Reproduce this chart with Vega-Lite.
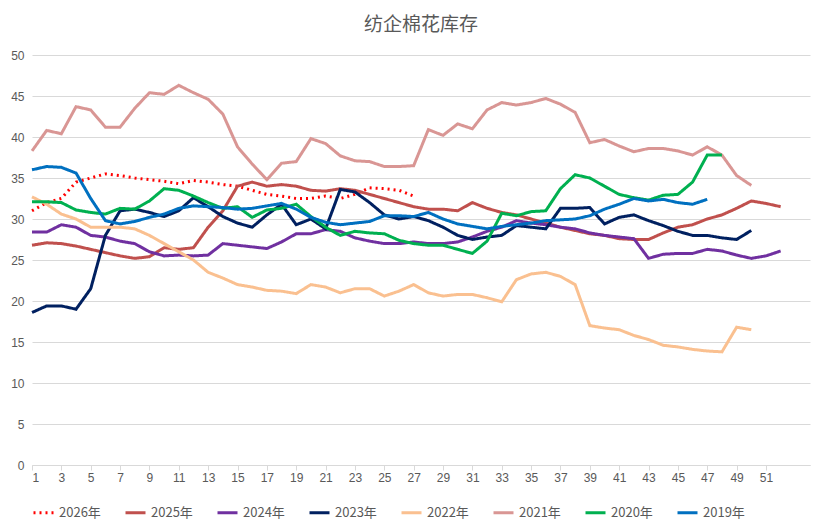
{
"$schema":"https://vega.github.io/schema/vega-lite/v6.json",
"autosize":{"type":"fit","contains":"padding"},
"width":830,"height":525,
"padding":{"left":10,"right":20,"top":16,"bottom":5},
"title":{"text":"纺企棉花库存","fontSize":19,"color":"#595959","font":"Noto Sans CJK SC","fontWeight":"normal","offset":14},
"config":{"font":"Noto Sans CJK SC","view":{"stroke":null}},
"data":{"values":[
{"w":1,"2026年":31,"2025年":26.8,"2024年":28.4,"2023年":18.6,"2022年":32.7,"2021年":38.3,"2020年":32.1,"2019年":36},
{"w":2,"2026年":32,"2025年":27.1,"2024年":28.4,"2023年":19.4,"2022年":31.8,"2021年":40.8,"2020年":32.1,"2019年":36.4},
{"w":3,"2026年":32.5,"2025年":27,"2024年":29.3,"2023年":19.4,"2022年":30.6,"2021年":40.4,"2020年":32,"2019年":36.3},
{"w":4,"2026年":34.5,"2025年":26.7,"2024年":29,"2023年":19,"2022年":30,"2021年":43.7,"2020年":31.1,"2019年":35.6},
{"w":5,"2026年":35,"2025年":26.3,"2024年":28,"2023年":21.5,"2022年":29,"2021年":43.3,"2020年":30.8,"2019年":32.5},
{"w":6,"2026年":35.5,"2025年":25.9,"2024年":27.8,"2023年":28,"2022年":29,"2021年":41.2,"2020年":30.6,"2019年":29.8},
{"w":7,"2026年":35.3,"2025年":25.5,"2024年":27.3,"2023年":31,"2022年":29,"2021年":41.2,"2020年":31.3,"2019年":29.4},
{"w":8,"2026年":35,"2025年":25.2,"2024年":27,"2023年":31.2,"2022年":28.8,"2021年":43.5,"2020年":31.2,"2019年":29.7},
{"w":9,"2026年":34.8,"2025年":25.4,"2024年":26,"2023年":30.8,"2022年":28,"2021年":45.4,"2020年":32.2,"2019年":30.2},
{"w":10,"2026年":34.6,"2025年":26.5,"2024年":25.5,"2023年":30.3,"2022年":27,"2021年":45.2,"2020年":33.7,"2019年":30.6},
{"w":11,"2026年":34.3,"2025年":26.3,"2024年":25.6,"2023年":31,"2022年":26,"2021年":46.3,"2020年":33.5,"2019年":31.3},
{"w":12,"2026年":34.7,"2025年":26.5,"2024年":25.5,"2023年":32.6,"2022年":25,"2021年":45.4,"2020年":32.8,"2019年":31.6},
{"w":13,"2026年":34.5,"2025年":29,"2024年":25.6,"2023年":31.5,"2022年":23.5,"2021年":44.6,"2020年":32,"2019年":31.5},
{"w":14,"2026年":34.2,"2025年":31,"2024年":27,"2023年":30.3,"2022年":22.8,"2021年":42.8,"2020年":31.3,"2019年":31.4},
{"w":15,"2026年":34,"2025年":34,"2024年":26.8,"2023年":29.5,"2022年":22,"2021年":38.8,"2020年":31.5,"2019年":31.2},
{"w":16,"2026年":33.5,"2025年":34.5,"2024年":26.6,"2023年":29,"2022年":21.7,"2021年":36.7,"2020年":30.2,"2019年":31.3},
{"w":17,"2026年":33,"2025年":34,"2024年":26.4,"2023年":30.5,"2022年":21.3,"2021年":34.8,"2020年":31.1,"2019年":31.6},
{"w":18,"2026年":32.8,"2025年":34.2,"2024年":27.2,"2023年":31.8,"2022年":21.2,"2021年":36.8,"2020年":31.3,"2019年":31.9},
{"w":19,"2026年":32.5,"2025年":34,"2024年":28.2,"2023年":29.3,"2022年":20.9,"2021年":37,"2020年":31.8,"2019年":31.2},
{"w":20,"2026年":32.5,"2025年":33.5,"2024年":28.2,"2023年":30,"2022年":22,"2021年":39.8,"2020年":30.3,"2019年":30.2},
{"w":21,"2026年":32.8,"2025年":33.4,"2024年":28.7,"2023年":28.8,"2022年":21.7,"2021年":39.2,"2020年":29,"2019年":29.6},
{"w":22,"2026年":32.5,"2025年":33.7,"2024年":28.5,"2023年":33.6,"2022年":21,"2021年":37.7,"2020年":28,"2019年":29.3},
{"w":23,"2026年":33,"2025年":33.5,"2024年":27.7,"2023年":33.3,"2022年":21.5,"2021年":37.1,"2020年":28.5,"2019年":29.5},
{"w":24,"2026年":33.8,"2025年":33,"2024年":27.3,"2023年":32,"2022年":21.5,"2021年":37,"2020年":28.3,"2019年":29.7},
{"w":25,"2026年":33.7,"2025年":32.5,"2024年":27,"2023年":30.5,"2022年":20.6,"2021年":36.4,"2020年":28.2,"2019年":30.4},
{"w":26,"2026年":33.5,"2025年":32,"2024年":27,"2023年":30,"2022年":21.2,"2021年":36.4,"2020年":27.4,"2019年":30.4},
{"w":27,"2026年":32.8,"2025年":31.5,"2024年":27.2,"2023年":30.3,"2022年":22,"2021年":36.5,"2020年":27,"2019年":30.3},
{"w":28,"2025年":31.2,"2024年":27,"2023年":29.8,"2022年":21,"2021年":40.9,"2020年":26.8,"2019年":30.8},
{"w":29,"2025年":31.2,"2024年":27,"2023年":29,"2022年":20.6,"2021年":40.2,"2020年":26.8,"2019年":30},
{"w":30,"2025年":31,"2024年":27.2,"2023年":28,"2022年":20.8,"2021年":41.6,"2020年":26.3,"2019年":29.4},
{"w":31,"2025年":32,"2024年":27.8,"2023年":27.5,"2022年":20.8,"2021年":41,"2020年":25.8,"2019年":29.1},
{"w":32,"2025年":31.3,"2024年":28.5,"2023年":27.8,"2022年":20.4,"2021年":43.3,"2020年":27.3,"2019年":28.8},
{"w":33,"2025年":30.8,"2024年":29,"2023年":28,"2022年":19.9,"2021年":44.2,"2020年":30.7,"2019年":29.1},
{"w":34,"2025年":30.5,"2024年":29.8,"2023年":29.2,"2022年":22.6,"2021年":43.9,"2020年":30.4,"2019年":29.3},
{"w":35,"2025年":30,"2024年":29.5,"2023年":29,"2022年":23.3,"2021年":44.2,"2020年":30.9,"2019年":29.5},
{"w":36,"2025年":29.5,"2024年":29.3,"2023年":28.8,"2022年":23.5,"2021年":44.7,"2020年":31,"2019年":29.8},
{"w":37,"2025年":29,"2024年":29,"2023年":31.3,"2022年":23,"2021年":44,"2020年":33.7,"2019年":29.9},
{"w":38,"2025年":28.6,"2024年":28.8,"2023年":31.3,"2022年":22,"2021年":43,"2020年":35.4,"2019年":30},
{"w":39,"2025年":28.2,"2024年":28.3,"2023年":31.4,"2022年":17,"2021年":39.3,"2020年":35,"2019年":30.4},
{"w":40,"2025年":28,"2024年":28,"2023年":29.4,"2022年":16.7,"2021年":39.7,"2020年":34,"2019年":31.2},
{"w":41,"2025年":27.6,"2024年":27.8,"2023年":30.2,"2022年":16.5,"2021年":38.9,"2020年":33,"2019年":31.8},
{"w":42,"2025年":27.5,"2024年":27.6,"2023年":30.5,"2022年":15.8,"2021年":38.2,"2020年":32.6,"2019年":32.5},
{"w":43,"2025年":27.5,"2024年":25.2,"2023年":29.8,"2022年":15.3,"2021年":38.6,"2020年":32.3,"2019年":32.2},
{"w":44,"2025年":28.3,"2024年":25.7,"2023年":29.2,"2022年":14.6,"2021年":38.6,"2020年":32.9,"2019年":32.4},
{"w":45,"2025年":29,"2024年":25.8,"2023年":28.5,"2022年":14.4,"2021年":38.3,"2020年":33,"2019年":32},
{"w":46,"2025年":29.3,"2024年":25.8,"2023年":28,"2022年":14.1,"2021年":37.8,"2020年":34.5,"2019年":31.8},
{"w":47,"2025年":30,"2024年":26.3,"2023年":28,"2022年":13.9,"2021年":38.8,"2020年":37.8,"2019年":32.4},
{"w":48,"2025年":30.5,"2024年":26.1,"2023年":27.7,"2022年":13.8,"2021年":37.8,"2020年":37.8},
{"w":49,"2025年":31.3,"2024年":25.6,"2023年":27.5,"2022年":16.8,"2021年":35.3},
{"w":50,"2025年":32.2,"2024年":25.2,"2023年":28.6,"2022年":16.5,"2021年":34.1},
{"w":51,"2025年":31.9,"2024年":25.5},
{"w":52,"2025年":31.5,"2024年":26.1}
]},
"transform":[
{"fold":["2026年","2025年","2024年","2023年","2022年","2021年","2020年","2019年"],"as":["s","v"]},
{"filter":"isValid(datum.v)"}
],
"mark":{"type":"line","strokeWidth":3},
"encoding":{
"x":{"field":"w","type":"quantitative","scale":{"domain":[1,54],"nice":false},
"axis":{"title":null,"values":[1,3,5,7,9,11,13,15,17,19,21,23,25,27,29,31,33,35,37,39,41,43,45,47,49,51],"grid":false,"labelColor":"#595959","labelFontSize":12,"domainColor":"#d9d9d9","tickColor":"#d9d9d9","labelFont":"Liberation Sans"}},
"y":{"field":"v","type":"quantitative","scale":{"domain":[0,50]},
"axis":{"title":null,"values":[0,5,10,15,20,25,30,35,40,45,50],"gridColor":"#d9d9d9","domain":false,"ticks":false,"labelColor":"#595959","labelFontSize":12,"labelFont":"Liberation Sans","labelPadding":8}},
"color":{"field":"s","type":"nominal","sort":["2026年","2025年","2024年","2023年","2022年","2021年","2020年","2019年"],
"scale":{"domain":["2026年","2025年","2024年","2023年","2022年","2021年","2020年","2019年"],"range":["#ff0000","#c0504d","#7030a0","#002060","#fac090","#d99694","#00b050","#0070c0"]},
"legend":{"orient":"bottom","direction":"horizontal","title":null,"symbolType":"stroke","symbolStrokeWidth":3,"symbolSize":400,"labelFontSize":13,"labelColor":"#595959","columns":8,"columnPadding":18}},
"strokeDash":{"field":"s","type":"nominal","scale":{"domain":["2026年","2025年","2024年","2023年","2022年","2021年","2020年","2019年"],"range":[[2,4],[1,0],[1,0],[1,0],[1,0],[1,0],[1,0],[1,0]]},"legend":null},
"order":{"field":"w"}
}
}
